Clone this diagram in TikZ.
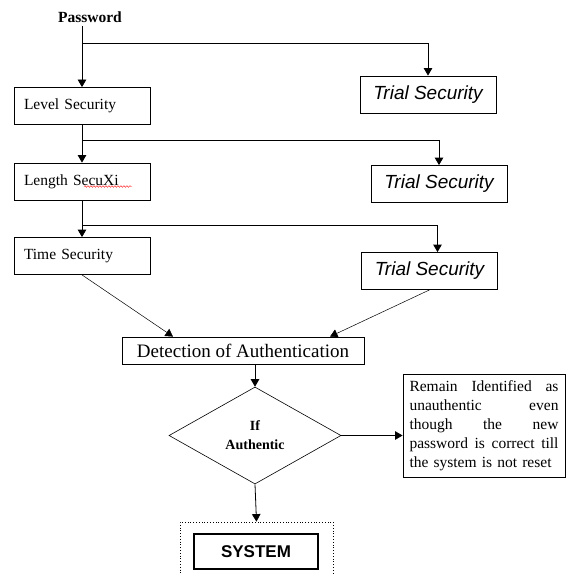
\documentclass[tikz,border=0pt]{standalone}
\usepackage{fontspec}
\setmainfont{Liberation Serif}
\newfontfamily\arialfont{Liberation Sans}
\usetikzlibrary{shapes.geometric,arrows.meta,decorations.pathmorphing}

\begin{document}
\begin{tikzpicture}[x=1pt, y=-1pt, line width=0.8pt,
    box/.style={draw, text width=116pt, inner xsep=10pt, minimum height=37pt, align=left, font=\fontsize{15.5}{18}\selectfont},
    trial/.style={draw, minimum width=136pt, minimum height=37pt, font=\arialfont\itshape\fontsize{19}{22}\selectfont},
    arr/.style={-{Triangle[width=8.5pt,length=7.5pt]}},
    squig/.style={red, line width=0.4pt, decorate, decoration={snake, amplitude=0.8pt, segment length=3pt}}]
    \useasboundingbox (0,0) rectangle (567,575);

    \node[font=\bfseries\fontsize{15.5}{18}\selectfont] (pw) at (90,17) {Password};
    \node[box] (lvl) at (82,106) {Level Security};
    \node[box] (len) at (82,181.5) {Length SecuXi};
    \node[box] (time) at (82,256) {Time Security};
    \node[trial] (tr1) at (428,94.5) {Trial Security};
    \node[trial] (tr2) at (439,184) {Trial Security};
    \node[trial] (tr3) at (429.5,271) {Trial Security};
    \node[draw, minimum width=242pt, minimum height=27pt, font=\fontsize{19}{22}\selectfont] (det) at (243,350.5) {Detection of Authentication};
    \node[draw, diamond, minimum width=172pt, minimum height=97pt, inner sep=0pt, line width=0.6pt, align=center, font=\bfseries\fontsize{14}{19}\selectfont] (dia) at (255,435.5) {If\\Authentic};
    \node[draw, text width=149pt, inner xsep=6.5pt, minimum height=103pt, align=left, font=\fontsize{15.5}{19}\selectfont] (note) at (484,425.5)
      {Remain\hfill Identified\hfill as\\ unauthentic\hfill even\\ though\hfill the\hfill new\\ password\hfill is\hfill correct\hfill till\\ the system is not reset};
    \node[draw, dotted, minimum width=153pt, minimum height=58pt] (frame) at (256.5,551) {};
    \node[draw, line width=1.6pt, minimum width=124pt, minimum height=35pt, font=\arialfont\bfseries\fontsize{17}{20}\selectfont] (sys) at (256,551.5) {SYSTEM};

    \coordinate (b1) at (83,43);
    \coordinate (b2) at (83,140);
    \coordinate (b3) at (83,225);

    % password chain
    \draw[arr] (lvl.north |- pw.south) -- (lvl.north);
    \draw[arr] (b1) -| (tr1);
    \draw[arr] (lvl) -- (len);
    \draw[arr] (b2) -| (tr2);
    \draw[arr] (len) -- (time);
    \draw[arr] (b3) -| ([xshift=8pt]tr3.north);
    \draw[squig] ([shift={(2,5)}]len.center) -- ([shift={(50,5)}]len.center);

    % detection
    \draw[arr, line width=0.5pt] (time.south) -- ([xshift=-70pt]det.north);
    \draw[arr, line width=0.5pt] (tr3.south) -- ([xshift=87pt]det.north);
    \draw[arr] (dia.north |- det.south) -- (dia.north);
    \draw[arr] (dia.east) -- (dia.east -| note.west);
    \draw[arr] (dia.south) -- (frame.north);
\end{tikzpicture}
\end{document}
